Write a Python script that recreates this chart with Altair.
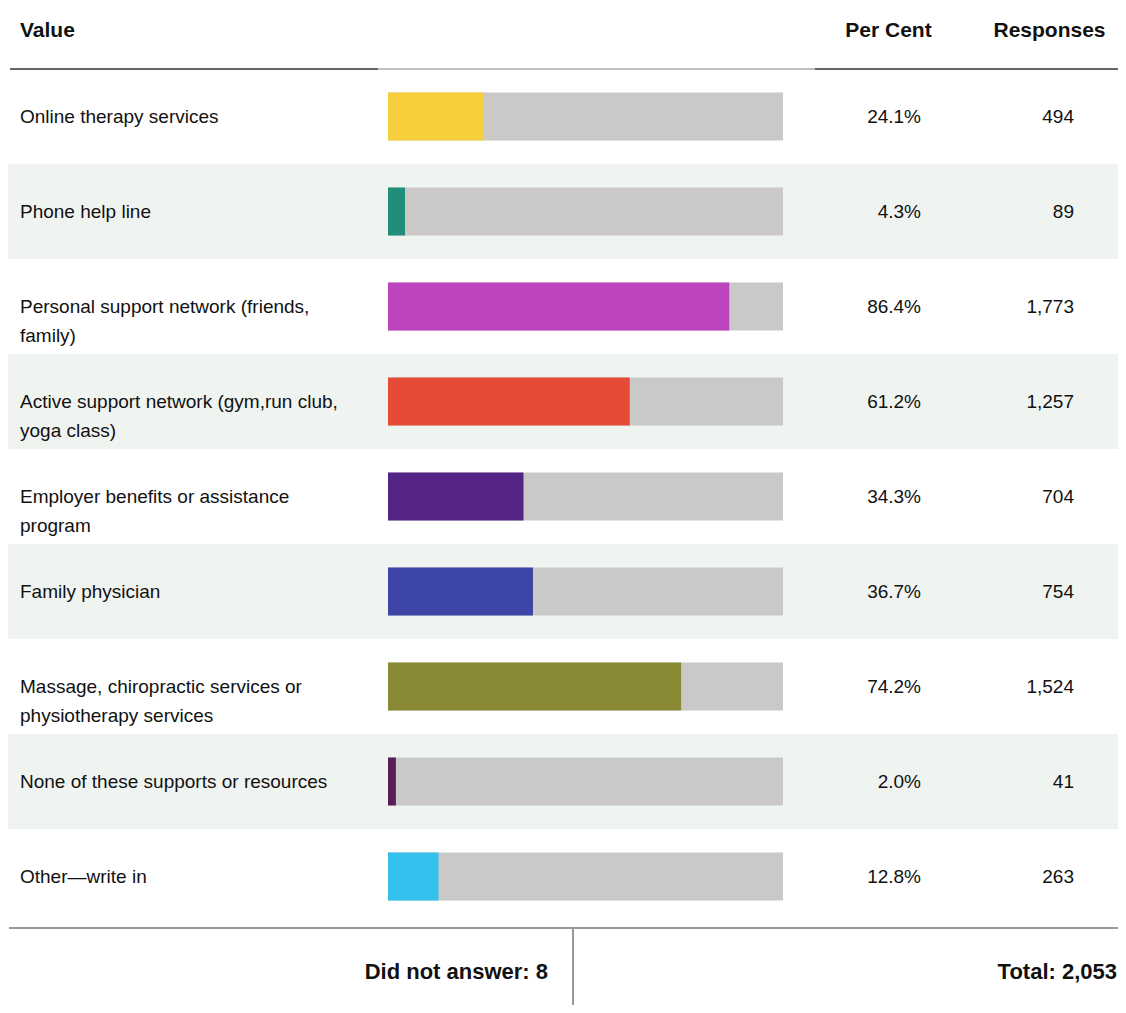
import altair as alt
import pandas as pd

labels = [
    "Online therapy services",
    "Phone help line",
    "Personal support network (friends,\nfamily)",
    "Active support network (gym,run club,\nyoga class)",
    "Employer benefits or assistance\nprogram",
    "Family physician",
    "Massage, chiropractic services or\nphysiotherapy services",
    "None of these supports or resources",
    "Other\u2014write in",
]
percents = [24.1, 4.3, 86.4, 61.2, 34.3, 36.7, 74.2, 2.0, 12.8]
responses = [494, 89, 1773, 1257, 704, 754, 1524, 41, 263]
bar_colors = ["#F7CF3D", "#218E7B", "#BE44BE", "#E64B37", "#542586",
              "#3D46A6", "#8A8A36", "#5B1D57", "#33C0EC"]
did_not_answer = 8
total = 2053

FONT = "Liberation Sans, Arial, sans-serif"
W, H = 1110, 997

df = pd.DataFrame({
    "label": labels,
    "pct": percents,
    "resp": responses,
    "idx": list(range(len(labels))),
})
df["pct_txt"] = df["pct"].map(lambda v: f"{v:.1f}%")
df["resp_txt"] = df["resp"].map(lambda v: f"{v:,}")
df["bg"] = df["idx"].map(lambda i: "alt" if i % 2 else "plain")

yenc = alt.Y("label:N", sort=labels, axis=None,
             scale=alt.Scale(range=[61, 916], paddingInner=0, paddingOuter=0))
xscale = alt.Scale(domain=[0, 100], range=[380, 775])

base = alt.Chart(df)

bg = base.mark_rect().encode(
    y=yenc,
    x=alt.value(0), x2=alt.value(W),
    color=alt.Color("bg:N", scale=alt.Scale(domain=["plain", "alt"], range=["#FFFFFF", "#F0F4F1"]), legend=None),
)

track = base.mark_bar(size=48, color="#CAC9C7").encode(
    y=yenc,
    x=alt.datum(0, scale=xscale, axis=None),
    x2=alt.datum(100),
)

bars = base.mark_bar(size=48).encode(
    y=yenc,
    x=alt.X("pct:Q", scale=xscale, axis=None),
    x2=alt.datum(0),
    fill=alt.Fill("label:N", scale=alt.Scale(domain=labels, range=bar_colors), legend=None),
)

TXT = "#111111"
lab = base.mark_text(align="left", baseline="middle", font=FONT, fontSize=19,
                     lineBreak="\n", lineHeight=29, color=TXT).encode(
    y=yenc, x=alt.value(12), text="label:N")

pct_t = base.mark_text(align="right", baseline="middle", font=FONT, fontSize=19,
                       color=TXT).encode(y=yenc, x=alt.value(913), text="pct_txt:N")

resp_t = base.mark_text(align="right", baseline="middle", font=FONT, fontSize=19,
                        color=TXT).encode(y=yenc, x=alt.value(1066), text="resp_txt:N")

header_text = ["Value", "Per Cent", "Responses"]
header_x = [12, 880.5, 1041.5]
header_align = ["left", "center", "center"]
headers = []
for t, xx, a in zip(header_text, header_x, header_align):
    headers.append(alt.Chart(pd.DataFrame({"t": [t]})).mark_text(
        align=a, baseline="middle", font=FONT, fontSize=21, fontWeight="bold", color=TXT
    ).encode(x=alt.value(xx), y=alt.value(23), text="t:N"))

def rule(x1, x2, y1, y2, color, w):
    return alt.Chart(pd.DataFrame({"a": [0]})).mark_rule(color=color, strokeWidth=w).encode(
        x=alt.value(x1), x2=alt.value(x2), y=alt.value(y1), y2=alt.value(y2))

lines = [
    rule(2, 370, 61, 61, "#333333", 1.5),
    rule(370, 807, 61, 61, "#AAAAAA", 1.5),
    rule(807, W, 61, 61, "#333333", 1.5),
    rule(1, W, 920, 920, "#999999", 2),
    rule(565, 565, 920, H, "#999999", 2),
]

foot = [
    alt.Chart(pd.DataFrame({"t": [f"Did not answer: {did_not_answer}"]})).mark_text(
        align="right", baseline="middle", font=FONT, fontSize=22, fontWeight="bold", color=TXT
    ).encode(x=alt.value(540), y=alt.value(964), text="t:N"),
    alt.Chart(pd.DataFrame({"t": [f"Total: {total:,}"]})).mark_text(
        align="right", baseline="middle", font=FONT, fontSize=22, fontWeight="bold", color=TXT
    ).encode(x=alt.value(W - 1), y=alt.value(964), text="t:N"),
]

chart = alt.layer(bg, track, bars, lab, pct_t, resp_t, *headers, *lines, *foot).resolve_scale(
    color="independent", fill="independent"
).properties(
    width=W, height=H, padding=0, autosize=alt.AutoSizeParams(type="none")
).configure_view(stroke=None)

chart.save("out.html", embed_options={"renderer": "svg", "actions": False})
